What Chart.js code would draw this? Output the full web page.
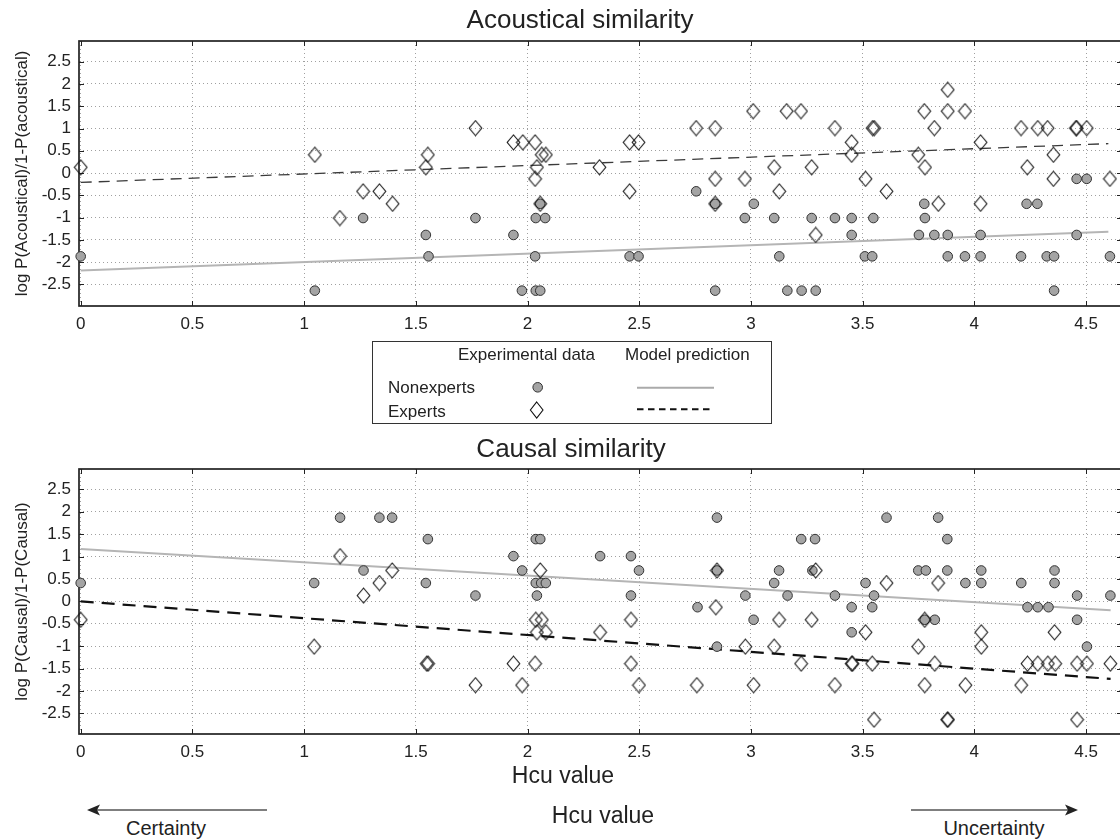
<!DOCTYPE html>
<html><head><meta charset="utf-8">
<script src="https://cdn.jsdelivr.net/npm/chart.js@4.4.1/dist/chart.umd.min.js"></script>
<style>
html,body{margin:0;padding:0;background:#fff;}
#page{position:relative;width:1120px;height:840px;overflow:hidden;font-family:'Liberation Sans',Arial,Helvetica,sans-serif;color:#222;}
.wrap{position:absolute;left:0;width:1124px;}
.wrap canvas{display:block;}
.t{position:absolute;white-space:nowrap;}
.c{transform:translateX(-50%);}
#legendBox{position:absolute;left:372px;top:341px;width:400px;height:83px;border:1px solid #333;box-sizing:border-box;}
svg{position:absolute;left:0;top:0;}
</style></head><body>
<div id="page">
<div class="wrap" style="top:0;height:340px"><canvas id="acoustic" width="1124" height="340"></canvas></div>
<div class="wrap" style="top:440px;height:360px"><canvas id="causal" width="1124" height="360"></canvas></div>

<div class="t c" style="left:580px;top:6px;font-size:26px;line-height:26px">Acoustical similarity</div>
<div class="t c" style="left:571px;top:435px;font-size:26px;line-height:26px">Causal similarity</div>

<div id="legendBox"></div>
<div class="t" style="left:458px;top:345.6px;font-size:17px;line-height:17px">Experimental data</div>
<div class="t" style="left:625px;top:345.6px;font-size:17px;line-height:17px">Model prediction</div>
<div class="t" style="left:388px;top:378.6px;font-size:17px;line-height:17px">Nonexperts</div>
<div class="t" style="left:388px;top:402.6px;font-size:17px;line-height:17px">Experts</div>

<div class="t c" style="left:563px;top:763.5px;font-size:23px;line-height:23px">Hcu value</div>
<div class="t c" style="left:603px;top:803.5px;font-size:23px;line-height:23px">Hcu value</div>
<div class="t c" style="left:166px;top:818px;font-size:20px;line-height:20px">Certainty</div>
<div class="t c" style="left:994px;top:818px;font-size:20px;line-height:20px">Uncertainty</div>

<svg width="1120" height="840" viewBox="0 0 1120 840">
  <circle cx="537.7" cy="387.3" r="4.8" fill="#a4a4a4" stroke="#333" stroke-width="1"/>
  <polygon points="536.7,402 543,410 536.7,418 530.4,410" fill="none" stroke="#111" stroke-width="1.1"/>
  <line x1="637" y1="387.7" x2="714" y2="387.7" stroke="#aaa" stroke-width="2"/>
  <line x1="637" y1="409.3" x2="713" y2="409.3" stroke="#111" stroke-width="2" stroke-dasharray="6.5 4.5"/>
  <line x1="95" y1="810" x2="267" y2="810" stroke="#555" stroke-width="1.5"/>
  <polygon points="87,810 100,804.5 97,810 100,815.5" fill="#222"/>
  <line x1="911" y1="810" x2="1070" y2="810" stroke="#555" stroke-width="1.5"/>
  <polygon points="1078,810 1065,804.5 1068,810 1065,815.5" fill="#222"/>
</svg>
</div>
<script>
// ---- tick labels ----
const xTicks = [0, 0.5, 1, 1.5, 2, 2.5, 3, 3.5, 4, 4.5];
const yTicks = [-2.5, -2, -1.5, -1, -0.5, 0, 0.5, 1, 1.5, 2, 2.5];

// ---- Acoustical similarity: Nonexperts (experimental) ----
const acNonX = [0, 1.048, 1.264, 2.057, 2.84, 2.755, 1.767, 2.037, 2.079, 2.973, 1.545, 1.937, 1.557, 2.034, 2.457, 2.497, 1.975, 2.037, 2.057, 2.84,
  3.013, 3.104, 3.272, 3.376, 3.451, 3.548, 3.779, 3.451, 3.776, 3.752, 3.821, 3.881, 4.028, 4.234, 4.282, 4.458, 4.503, 4.458,
  3.127, 3.51, 3.543, 3.881, 3.958, 4.028, 4.209, 4.324, 4.357, 4.607, 3.163, 3.227, 3.29, 4.357];
const acNonY = [-1.87, -2.64, -1.01, -0.69, -0.69, -0.41, -1.01, -1.01, -1.01, -1.01, -1.39, -1.39, -1.87, -1.87, -1.87, -1.87, -2.64, -2.64, -2.64, -2.64,
  -0.69, -1.01, -1.01, -1.01, -1.01, -1.01, -1.01, -1.39, -0.69, -1.39, -1.39, -1.39, -1.39, -0.69, -0.69, -0.13, -0.13, -1.39,
  -1.87, -1.87, -1.87, -1.87, -1.87, -1.87, -1.87, -1.87, -1.87, -1.87, -2.64, -2.64, -2.64, -2.64];

// ---- Acoustical similarity: Experts (experimental) ----
const acExpX = [0, 1.048, 1.264, 1.337, 1.16, 1.396, 1.554, 1.545, 1.767, 1.937, 1.979, 2.034, 2.064, 2.082, 2.042, 2.034, 2.057, 2.322, 2.457, 2.497,
  2.457, 2.755, 2.84, 2.84, 2.973, 2.84, 3.01, 3.16, 3.224, 3.376, 3.451, 3.451, 3.545, 3.552, 3.104, 3.272, 3.127, 3.29, 3.513, 3.607,
  3.749, 3.779, 3.776, 3.821, 3.881, 3.881, 3.958, 3.839, 4.028, 4.028, 4.209, 4.284, 4.328, 4.237, 4.354, 4.354, 4.455, 4.458, 4.503, 4.607];
const acExpY = [0.13, 0.41, -0.41, -0.41, -1.01, -0.69, 0.41, 0.13, 1.01, 0.69, 0.69, 0.69, 0.41, 0.41, 0.13, -0.13, -0.69, 0.13, 0.69, 0.69,
  -0.41, 1.01, 1.01, -0.13, -0.13, -0.69, 1.39, 1.39, 1.39, 1.01, 0.69, 0.41, 1.01, 1.01, 0.13, 0.13, -0.41, -1.39, -0.13, -0.41,
  0.41, 0.13, 1.39, 1.01, 1.87, 1.39, 1.39, -0.69, 0.69, -0.69, 1.01, 1.01, 1.01, 0.13, 0.41, -0.13, 1.01, 1.01, 1.01, -0.13];

// ---- Acoustical similarity: model predictions ----
const acModelX = [0, 4.6];
const acNonModel = [-2.19, -1.32];
const acExpModel = [-0.21, 0.66];

// ---- Causal similarity: Nonexperts (experimental) ----
const caNonX = [0, 1.045, 1.161, 1.266, 1.337, 1.394, 1.554, 1.545, 1.767, 1.937, 1.976, 2.037, 2.057, 2.037, 2.061, 2.082, 2.042, 2.325, 2.463, 2.499,
  2.463, 2.848, 2.848, 2.761, 2.848, 2.975, 3.012, 3.104, 3.126, 3.164, 3.225, 3.287, 3.275, 3.376, 3.451, 3.451, 3.513, 3.551, 3.543, 3.607,
  3.749, 3.783, 3.778, 3.823, 3.838, 3.879, 3.879, 3.96, 4.031, 4.031, 4.21, 4.238, 4.284, 4.332, 4.359, 4.359, 4.46, 4.46, 4.504, 4.609];
const caNonY = [0.41, 0.41, 1.87, 0.69, 1.87, 1.87, 1.39, 0.41, 0.13, 1.01, 0.69, 1.39, 1.39, 0.41, 0.41, 0.41, 0.13, 1.01, 1.01, 0.69,
  0.13, 1.87, 0.69, -0.13, -1.01, 0.13, -0.41, 0.41, 0.69, 0.13, 1.39, 1.39, 0.69, 0.13, -0.13, -0.69, 0.41, 0.13, -0.13, 1.87,
  0.69, 0.69, -0.41, -0.41, 1.87, 1.39, 0.69, 0.41, 0.69, 0.41, 0.41, -0.13, -0.13, -0.13, 0.69, 0.41, 0.13, -0.41, -1.01, 0.13];

// ---- Causal similarity: Experts (experimental) ----
const caExpX = [0, 1.045, 1.161, 1.266, 1.337, 1.394, 1.549, 1.555, 1.767, 1.937, 1.976, 2.057, 2.037, 2.064, 2.042, 2.082, 2.034, 2.325, 2.463, 2.463,
  2.499, 2.848, 2.843, 2.758, 2.975, 3.012, 3.104, 3.126, 3.225, 3.272, 3.29, 3.376, 3.451, 3.455, 3.513, 3.543, 3.551, 3.607, 3.749, 3.778,
  3.778, 3.823, 3.838, 3.879, 3.882, 3.96, 4.031, 4.031, 4.21, 4.238, 4.284, 4.329, 4.362, 4.359, 4.46, 4.504, 4.46, 4.609];
const caExpY = [-0.41, -1.01, 1.01, 0.13, 0.41, 0.69, -1.39, -1.39, -1.87, -1.39, -1.87, 0.69, -0.41, -0.41, -0.69, -0.69, -1.39, -0.69, -0.41, -1.39,
  -1.87, 0.69, -0.13, -1.87, -1.01, -1.87, -1.01, -0.41, -1.39, -0.41, 0.69, -1.87, -1.39, -1.39, -0.69, -1.39, -2.64, 0.41, -1.01, -0.41,
  -1.87, -1.39, 0.41, -2.64, -2.64, -1.87, -0.69, -1.01, -1.87, -1.39, -1.39, -1.39, -1.39, -0.69, -1.39, -1.39, -2.64, -1.39];

// ---- Causal similarity: model predictions ----
const caModelX = [0, 4.61];
const caNonModel = [1.17, -0.2];
const caExpModel = [0.0, -1.73];

const FONT = "'Liberation Sans', Arial, Helvetica, sans-serif";
Chart.defaults.font.family = FONT;
Chart.defaults.color = '#222';

function diamondImage() {
  const c = document.createElement('canvas');
  c.width = 15; c.height = 17;
  const g = c.getContext('2d');
  g.strokeStyle = '#111'; g.lineWidth = 1.1;
  g.beginPath();
  g.moveTo(7.5, 1); g.lineTo(13.8, 8.5); g.lineTo(7.5, 16); g.lineTo(1.2, 8.5);
  g.closePath(); g.stroke();
  return c;
}
const DIAMOND = diamondImage();

const framePlugin = {
  id: 'frame',
  beforeDatasetsDraw(chart) {
    const {ctx, chartArea: {left, top, right, bottom}, scales: {x, y}} = chart;
    ctx.save();
    ctx.strokeStyle = '#222';
    ctx.lineWidth = 1;
    ctx.beginPath();
    xTicks.forEach(v => {
      const p = Math.round(x.getPixelForValue(v)) + 0.5;
      ctx.moveTo(p, bottom); ctx.lineTo(p, bottom - 5);
      ctx.moveTo(p, top); ctx.lineTo(p, top + 5);
    });
    yTicks.forEach(v => {
      const p = Math.round(y.getPixelForValue(v)) + 0.5;
      ctx.moveTo(left, p); ctx.lineTo(left + 5, p);
      ctx.moveTo(right, p); ctx.lineTo(right - 5, p);
    });
    ctx.stroke();
    ctx.lineWidth = 1.7;
    ctx.strokeRect(left, top, right - left, bottom - top);
    ctx.restore();
  }
};

function pts(xs, ys) { return xs.map((x, i) => ({x, y: ys[i]})); }

function build(id, o) {
  return new Chart(document.getElementById(id), {
    type: 'scatter',
    data: {
      datasets: [
        {label: 'Nonexperts model', data: pts(o.modelX, o.nonModel), showLine: true, pointRadius: 0,
          borderColor: '#b5b5b5', borderWidth: 2, order: 3},
        {label: 'Experts model', data: pts(o.modelX, o.expModel), showLine: true, pointRadius: 0,
          borderColor: o.dashColor, borderWidth: o.dashWidth, borderDash: o.dash, order: 2},
        {label: 'Nonexperts', data: pts(o.nx, o.ny), pointRadius: 4.8, pointBackgroundColor: '#a4a4a4',
          pointBorderColor: '#333', pointBorderWidth: 1, order: 1, clip: false},
        {label: 'Experts', data: pts(o.ex, o.ey), pointStyle: DIAMOND, pointRadius: 7, order: 0, clip: false}
      ]
    },
    options: {
      responsive: false, animation: false, devicePixelRatio: 1,
      layout: {autoPadding: false, padding: {top: o.padTop, right: 2, left: 0, bottom: 0}},
      plugins: {legend: {display: false}, tooltip: {enabled: false}},
      scales: {
        x: {
          type: 'linear', min: -0.0076, max: 4.661,
          afterBuildTicks: s => { s.ticks = xTicks.map(v => ({value: v})); },
          afterFit: s => { s.height = o.xH; s.paddingLeft = 0; s.paddingRight = 0; },
          grid: {color: '#a0a0a0', lineWidth: 1, drawTicks: false},
          border: {display: false, dash: [1, 3]},
          ticks: {padding: 8, font: {size: 17}, color: '#222', autoSkip: false, maxRotation: 0,
            callback: v => String(v)}
        },
        y: {
          type: 'linear', min: o.yMin, max: o.yMax,
          afterBuildTicks: s => { s.ticks = yTicks.map(v => ({value: v})); },
          afterFit: s => { s.width = 79; s.paddingTop = 0; s.paddingBottom = 0; },
          grid: {color: '#a0a0a0', lineWidth: 1, drawTicks: false},
          border: {display: false, dash: [1, 3]},
          ticks: {padding: 8, font: {size: 17}, color: '#222', autoSkip: false, callback: v => String(v)},
          title: {display: true, text: o.ylabel, font: {size: 17}, color: '#222', padding: {top: 12, bottom: 0}}
        }
      }
    },
    plugins: [framePlugin]
  });
}

build('acoustic', {
  nx: acNonX, ny: acNonY, ex: acExpX, ey: acExpY,
  modelX: acModelX, nonModel: acNonModel, expModel: acExpModel,
  dashColor: '#3a3a3a', dashWidth: 1.3, dash: [11, 7],
  ylabel: 'log P(Acoustical)/1-P(acoustical)',
  padTop: 41, xH: 34, yMin: -2.985, yMax: 2.965
});
build('causal', {
  nx: caNonX, ny: caNonY, ex: caExpX, ey: caExpY,
  modelX: caModelX, nonModel: caNonModel, expModel: caExpModel,
  dashColor: '#111', dashWidth: 2.2, dash: [13, 8],
  ylabel: 'log P(Causal)/1-P(Causal)',
  padTop: 29, xH: 66, yMin: -2.96, yMax: 2.955
});
</script>
</body></html>
